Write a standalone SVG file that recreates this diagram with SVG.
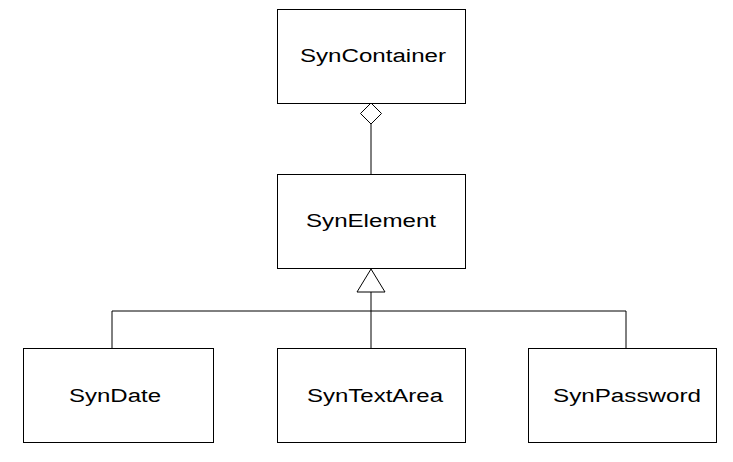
<svg xmlns="http://www.w3.org/2000/svg" width="733" height="462" viewBox="0 0 733 462">
<style>
.box{fill:#fff;stroke:#000;stroke-width:1}
.lbl{font-family:"Liberation Sans",Arial,sans-serif;font-size:18px;fill:#000;text-anchor:middle}
.ln{fill:none;stroke:#000;stroke-width:1}
.hd{fill:#fff;stroke:#000;stroke-width:1}
</style>
<g id="connectors">
<line class="ln" x1="371" y1="124" x2="371" y2="174"/>
<polygon class="hd" points="371,103 381.5,113.5 371,124 360.5,113.5"/>
<line class="ln" x1="371" y1="292" x2="371" y2="348"/>
<polyline class="ln" points="112,348 112,311 626,311 626,348"/>
<polygon class="hd" points="371,269 385,292 357,292"/>
</g>
<g id="SynContainer">
<rect class="box" x="277.5" y="9.5" width="188" height="94"/>
<text class="lbl" x="373" y="62" textLength="146" lengthAdjust="spacingAndGlyphs">SynContainer</text>
</g>
<g id="SynElement">
<rect class="box" x="277.5" y="174.5" width="188" height="94"/>
<text class="lbl" x="371" y="227" textLength="130" lengthAdjust="spacingAndGlyphs">SynElement</text>
</g>
<g id="SynDate">
<rect class="box" x="23.5" y="348.5" width="190" height="94"/>
<text class="lbl" x="115" y="402" textLength="92" lengthAdjust="spacingAndGlyphs">SynDate</text>
</g>
<g id="SynTextArea">
<rect class="box" x="277.5" y="348.5" width="188" height="94"/>
<text class="lbl" x="375" y="402" textLength="136" lengthAdjust="spacingAndGlyphs">SynTextArea</text>
</g>
<g id="SynPassword">
<rect class="box" x="528.5" y="348.5" width="188" height="94"/>
<text class="lbl" x="627" y="402" textLength="148" lengthAdjust="spacingAndGlyphs">SynPassword</text>
</g>
</svg>
